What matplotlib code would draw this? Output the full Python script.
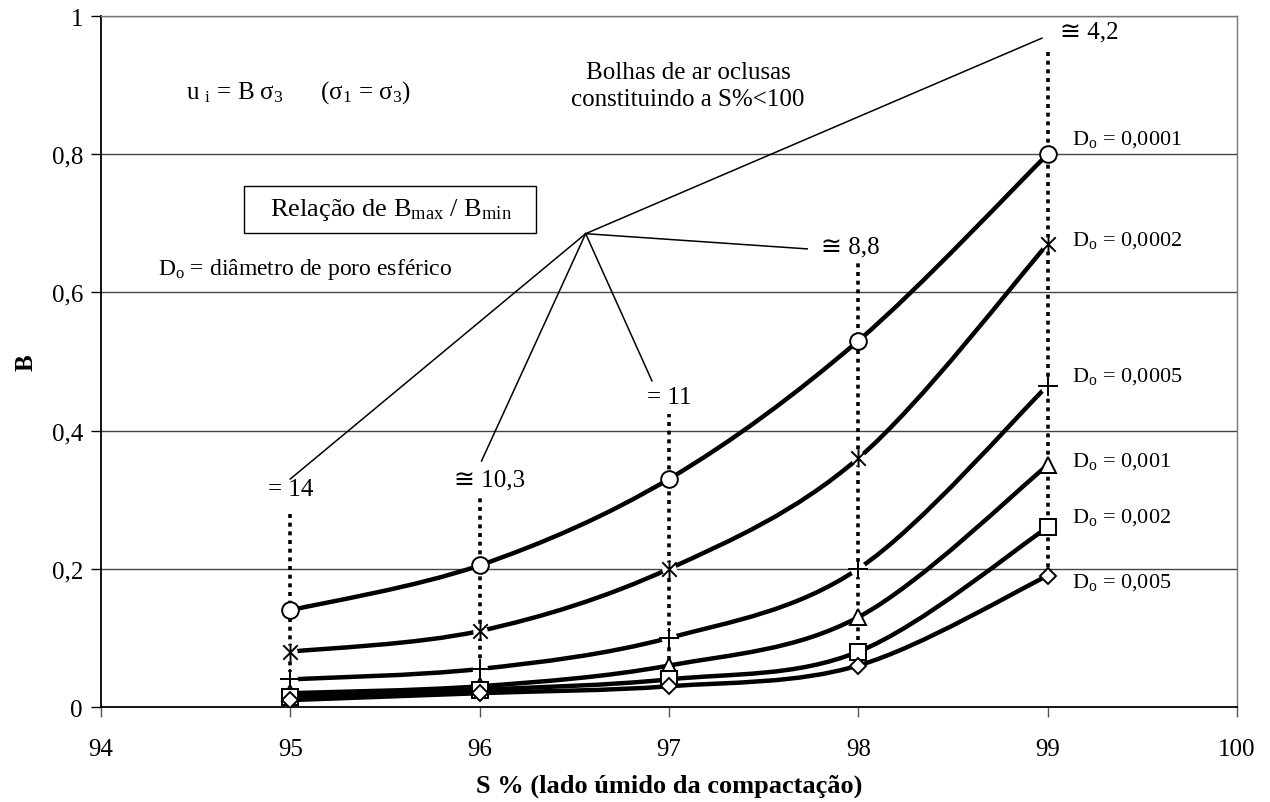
import matplotlib
matplotlib.use("Agg")
import matplotlib.pyplot as plt
from matplotlib.path import Path
from matplotlib.patches import PathPatch, Rectangle

plt.rcParams['font.family'] = ['Liberation Serif', 'DejaVu Sans']
plt.rcParams['mathtext.fontset'] = 'custom'
plt.rcParams['mathtext.rm'] = 'Liberation Serif'
plt.rcParams['mathtext.it'] = 'Liberation Serif:italic'

# data
s_pct = [95, 96, 97, 98, 99]
diam_labels = ['0,0001', '0,0002', '0,0005', '0,001', '0,002', '0,005']
b_0001 = [0.14, 0.205, 0.33, 0.53, 0.80]
b_0002 = [0.08, 0.11, 0.20, 0.36, 0.67]
b_0005 = [0.04, 0.055, 0.10, 0.20, 0.465]
b_001 = [0.02, 0.03, 0.06, 0.13, 0.35]
b_002 = [0.015, 0.025, 0.04, 0.08, 0.26]
b_005 = [0.01, 0.02, 0.03, 0.06, 0.19]
series = [b_0001, b_0002, b_0005, b_001, b_002, b_005]

ratio_labels = ['= 14', '≅ 10,3', '= 11', '≅ 8,8', '≅ 4,2']
ratio_label_x = [95.0, 96.05, 97.0, 97.96, 99.22]
ratio_label_y = [0.315, 0.33, 0.449, 0.666, 0.978]
ratio_dot_top = [0.285, 0.305, 0.424, 0.645, 0.95]
pointer_x = [95.0, 96.01, 96.91, 97.73, 98.97]
pointer_y = [0.33, 0.356, 0.472, 0.663, 0.968]
hub = (96.56, 0.685)
label_y = [0.822, 0.676, 0.479, 0.356, 0.276, 0.182]

star = Path([(-1, -1), (1, 1), (-1, 1), (1, -1), (0, -1.25), (0, 1.25)],
            [Path.MOVETO, Path.LINETO, Path.MOVETO, Path.LINETO, Path.MOVETO, Path.LINETO])
markers = ['o', star, '+', '^', 's', 'D']
msizes = [12, 13, 14, 12, 11, 8]


def smooth_path(xs, ys):
    # Excel style smoothed line: cubic bezier through the points
    pts = list(zip(xs, ys))
    n = len(pts)
    verts = [pts[0]]
    codes = [Path.MOVETO]
    for i in range(n - 1):
        p0 = pts[max(i - 1, 0)]
        p1 = pts[i]
        p2 = pts[i + 1]
        p3 = pts[min(i + 2, n - 1)]
        c1 = (p1[0] + (p2[0] - p0[0]) / 6, p1[1] + (p2[1] - p0[1]) / 6)
        c2 = (p2[0] - (p3[0] - p1[0]) / 6, p2[1] - (p3[1] - p1[1]) / 6)
        verts += [c1, c2, p2]
        codes += [Path.CURVE4] * 3
    return Path(verts, codes)


fig = plt.figure(figsize=(12.7, 8.03), dpi=100)
ax = fig.add_axes([0.0795, 0.1183, 0.8945, 0.8605])
ax.set_xlim(94, 100)
ax.set_ylim(0, 1)

for y in [0.2, 0.4, 0.6, 0.8, 1.0]:
    ax.axhline(y, color='#444444', lw=1.0, zorder=1)

# dotted guides from the ratio labels down to the lowest curve
for x, top, low in zip(s_pct, ratio_dot_top, b_005):
    ax.plot([x, x], [low, top], color='black', lw=2.6, ls=(0, (1.1, 1.3)), zorder=2)

for vals, m, ms in zip(series, markers, msizes):
    ax.add_patch(PathPatch(smooth_path(s_pct, vals), fill=False, lw=3.2,
                           edgecolor='black', zorder=3, capstyle='butt'))
    if m in ('+', star):
        # white gap round the open markers, as in the original
        ax.plot(s_pct, vals, ls='none', marker='o', ms=ms * 0.8, mfc='white',
                mec='none', zorder=3.5)
    ax.plot(s_pct, vals, ls='none', marker=m, ms=ms, mfc='white', mec='black',
            mew=1.4, zorder=4)

for lab, y in zip(diam_labels, label_y):
    ax.text(99.13, y, 'D$_\\mathrm{o}$ = ' + lab, fontsize=16, va='center', ha='left')

for x, lab, y in zip(ratio_label_x, ratio_labels, ratio_label_y):
    ax.text(x, y, lab, fontsize=18, ha='center', va='center')

for px, py in zip(pointer_x, pointer_y):
    ax.plot([hub[0], px], [hub[1], py], color='black', lw=1.1, zorder=2)

ax.add_patch(Rectangle((94.755, 0.686), 1.545, 0.068, fill=False, lw=1.0,
                       edgecolor='black', zorder=2))
ax.text(95.53, 0.72, 'Relação de B$_\\mathrm{max}$ / B$_\\mathrm{min}$',
        fontsize=19, ha='center', va='center')

ax.text(94.45, 0.89, 'u $_\\mathrm{i}$ = B σ$_3$      (σ$_1$ = σ$_3$)', fontsize=18,
        ha='left', va='center')
ax.text(97.1, 0.90, 'Bolhas de ar oclusas\nconstituindo a S%<100', fontsize=18,
        ha='center', va='center', linespacing=1.3)
ax.text(94.3, 0.634, 'D$_\\mathrm{o}$ = diâmetro de poro esférico', fontsize=17,
        ha='left', va='center')

ax.set_xticks([94, 95, 96, 97, 98, 99, 100])
ax.set_xticklabels(['94', '95', '96', '97', '98', '99', '100'], fontsize=18)
ax.set_yticks([0, 0.2, 0.4, 0.6, 0.8, 1.0])
ax.set_yticklabels(['0', '0,2', '0,4', '0,6', '0,8', '1'], fontsize=18)
ax.tick_params(axis='x', direction='out', length=7, width=1, colors='#555555',
               labelcolor='black', pad=15)
ax.tick_params(axis='y', direction='out', length=7, width=1, pad=6)

ax.set_xlabel('S % (lado úmido da compactação)', fontsize=19, fontweight='bold', labelpad=10)
ax.set_ylabel('B', fontsize=18, fontweight='bold', labelpad=10)

for side in ['left', 'bottom']:
    ax.spines[side].set_color('black')
    ax.spines[side].set_linewidth(1.3)
for side in ['top', 'right']:
    ax.spines[side].set_color('#777777')
    ax.spines[side].set_linewidth(1.0)

fig.savefig('out.png', dpi=100)
